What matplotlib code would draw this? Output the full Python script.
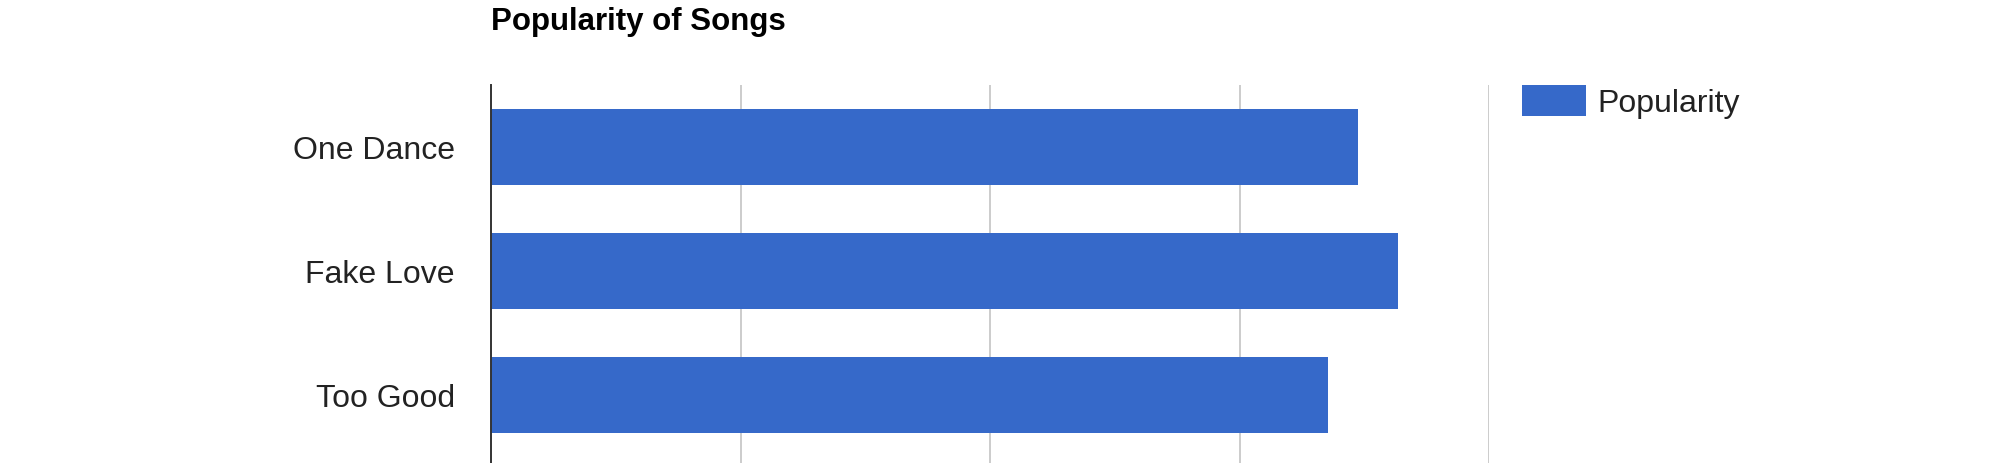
import matplotlib
matplotlib.use('Agg')
import matplotlib.pyplot as plt

songs = ['One Dance', 'Fake Love', 'Too Good']
popularity = [69.5, 72.7, 67.1]
grid_ticks = [0, 20, 40, 60, 80]

plt.rcParams['font.family'] = ['Liberation Sans', 'DejaVu Sans']

fig = plt.figure(figsize=(19.92, 4.64), dpi=100)
ax = fig.add_axes([491 / 1992, 0, 998 / 1992, 1 - 86 / 464])

bars = ax.barh(range(len(songs)), popularity, height=0.618, color='#3669c9', label='Popularity', zorder=2)

ax.set_xlim(0, 80)
ax.set_ylim(-0.5 + 378 / 124, -0.5)
ax.set_xticks(grid_ticks)
ax.set_yticks(range(len(songs)))
ax.set_yticklabels(songs, fontsize=23, color='#222222')
ax.tick_params(axis='both', length=0)
ax.tick_params(axis='y', pad=26)
ax.tick_params(axis='x', labelbottom=False)
ax.grid(axis='x', color='#cccccc', linewidth=1.4, zorder=0)
ax.set_axisbelow(True)
for s in ['top', 'right', 'bottom']:
    ax.spines[s].set_visible(False)
ax.spines['left'].set_color('#333333')
ax.spines['left'].set_linewidth(1.4)
ax.spines['left'].set_zorder(3)

# title
fig.text(491 / 1992, 1 - 30 / 464, 'Popularity of Songs', fontsize=22.5, fontweight='bold',
         va='baseline', ha='left', color='black')

leg = fig.legend(handles=[bars], labels=['Popularity'], loc='upper left',
                 bbox_to_anchor=(1522 / 1992, 1 - 86 / 464), frameon=False,
                 fontsize=23, handlelength=1.99, handleheight=1.1,
                 handletextpad=0.38, borderpad=0, borderaxespad=0)
for t in leg.get_texts():
    t.set_color('#222222')

fig.savefig('out.png', dpi=100)
